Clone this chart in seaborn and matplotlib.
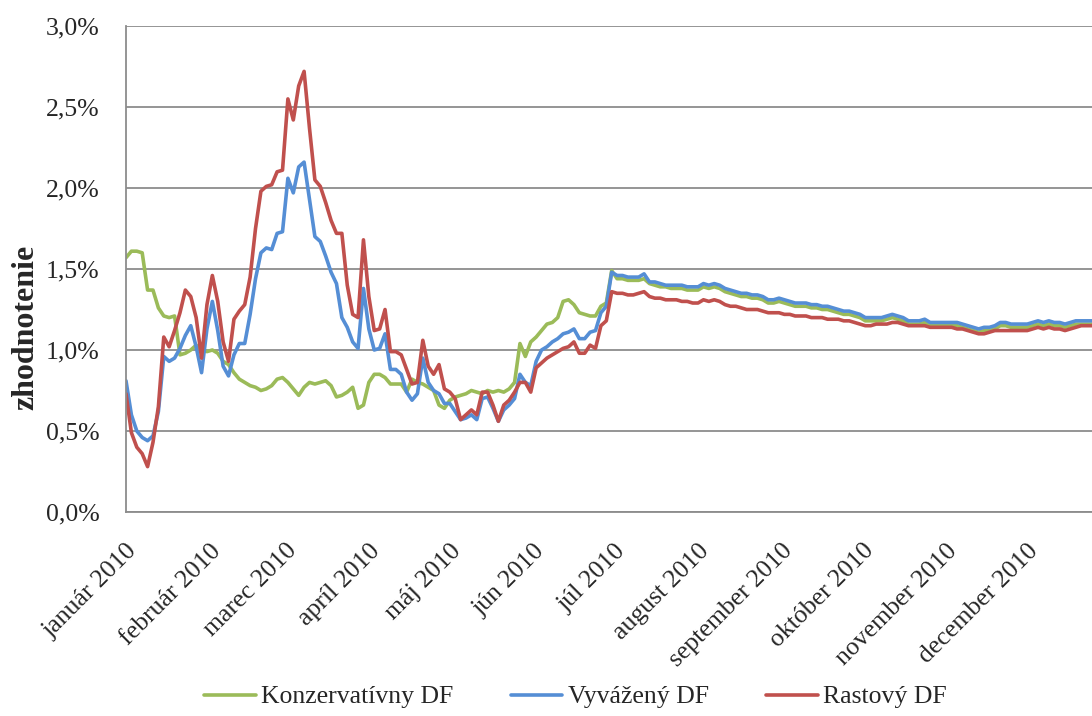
import pandas as pd
import matplotlib
matplotlib.use("Agg")
import matplotlib.pyplot as plt
import matplotlib.ticker as mticker
import seaborn as sns

# series names (legend order)
SERIES = ["Konzervatívny DF", "Vyvážený DF", "Rastový DF"]
COLORS = ["#9BBB59", "#558ED5", "#C0504D"]

# month tick labels
MONTHS = ["január 2010", "február 2010", "marec 2010", "apríl 2010", "máj 2010",
          "jún 2010", "júl 2010", "august 2010", "september 2010", "október 2010",
          "november 2010", "december 2010"]

# values in %, one reading every 2 calendar days starting 1.1.2010
konzervativny = [
    1.57, 1.61, 1.61, 1.60, 1.37, 1.37, 1.26, 1.21, 1.20, 1.21,
    0.97, 0.98, 1.00, 1.03, 1.00, 0.99, 1.00, 0.98, 0.93, 0.91,
    0.86, 0.82, 0.80, 0.78, 0.77, 0.75, 0.76, 0.78, 0.82, 0.83,
    0.80, 0.76, 0.72, 0.77, 0.80, 0.79, 0.80, 0.81, 0.78, 0.71,
    0.72, 0.74, 0.77, 0.64, 0.66, 0.80, 0.85, 0.85, 0.83, 0.79,
    0.79, 0.79, 0.74, 0.82, 0.80, 0.79, 0.77, 0.75, 0.66, 0.64,
    0.69, 0.71, 0.72, 0.73, 0.75, 0.74, 0.73, 0.75, 0.74, 0.75,
    0.74, 0.76, 0.80, 1.04, 0.96, 1.05, 1.08, 1.12, 1.16, 1.17,
    1.20, 1.30, 1.31, 1.28, 1.23, 1.22, 1.21, 1.21, 1.27, 1.29,
    1.49, 1.44, 1.44, 1.43, 1.43, 1.43, 1.44, 1.41, 1.40, 1.39,
    1.39, 1.38, 1.38, 1.38, 1.37, 1.37, 1.37, 1.39, 1.38, 1.39,
    1.38, 1.36, 1.35, 1.34, 1.33, 1.33, 1.32, 1.32, 1.31, 1.29,
    1.29, 1.30, 1.29, 1.28, 1.27, 1.27, 1.27, 1.26, 1.26, 1.25,
    1.25, 1.24, 1.23, 1.22, 1.22, 1.21, 1.20, 1.18, 1.18, 1.18,
    1.18, 1.19, 1.20, 1.19, 1.18, 1.16, 1.16, 1.16, 1.17, 1.15,
    1.15, 1.15, 1.15, 1.15, 1.15, 1.14, 1.13, 1.12, 1.11, 1.12,
    1.12, 1.13, 1.15, 1.15, 1.14, 1.14, 1.14, 1.14, 1.15, 1.16,
    1.15, 1.16, 1.15, 1.15, 1.14, 1.15, 1.16, 1.16, 1.16, 1.16,
    1.16,
]

vyvazeny = [
    0.81, 0.60, 0.50, 0.46, 0.44, 0.47, 0.62, 0.96, 0.93, 0.95,
    1.01, 1.09, 1.15, 1.02, 0.86, 1.13, 1.30, 1.12, 0.90, 0.84,
    0.97, 1.04, 1.04, 1.22, 1.44, 1.60, 1.63, 1.62, 1.72, 1.73,
    2.06, 1.97, 2.13, 2.16, 1.93, 1.70, 1.67, 1.58, 1.48, 1.41,
    1.20, 1.14, 1.05, 1.01, 1.38, 1.13, 1.00, 1.01, 1.10, 0.88,
    0.88, 0.85, 0.74, 0.69, 0.73, 0.95, 0.80, 0.75, 0.73, 0.67,
    0.67, 0.62, 0.57, 0.58, 0.60, 0.57, 0.70, 0.71, 0.64, 0.56,
    0.63, 0.66, 0.70, 0.85, 0.80, 0.78, 0.93, 1.00, 1.02, 1.05,
    1.07, 1.10, 1.11, 1.13, 1.07, 1.07, 1.11, 1.12, 1.23, 1.27,
    1.48, 1.46, 1.46, 1.45, 1.45, 1.45, 1.47, 1.42, 1.42, 1.41,
    1.40, 1.40, 1.40, 1.40, 1.39, 1.39, 1.39, 1.41, 1.40, 1.41,
    1.40, 1.38, 1.37, 1.36, 1.35, 1.35, 1.34, 1.34, 1.33, 1.31,
    1.31, 1.32, 1.31, 1.30, 1.29, 1.29, 1.29, 1.28, 1.28, 1.27,
    1.27, 1.26, 1.25, 1.24, 1.24, 1.23, 1.22, 1.20, 1.20, 1.20,
    1.20, 1.21, 1.22, 1.21, 1.20, 1.18, 1.18, 1.18, 1.19, 1.17,
    1.17, 1.17, 1.17, 1.17, 1.17, 1.16, 1.15, 1.14, 1.13, 1.14,
    1.14, 1.15, 1.17, 1.17, 1.16, 1.16, 1.16, 1.16, 1.17, 1.18,
    1.17, 1.18, 1.17, 1.17, 1.16, 1.17, 1.18, 1.18, 1.18, 1.18,
    1.18,
]

rastovy = [
    0.73, 0.49, 0.40, 0.36, 0.28, 0.43, 0.65, 1.08, 1.02, 1.12,
    1.23, 1.37, 1.33, 1.20, 0.95, 1.28, 1.46, 1.30, 1.05, 0.93,
    1.19, 1.24, 1.28, 1.45, 1.75, 1.98, 2.01, 2.02, 2.10, 2.11,
    2.55, 2.42, 2.63, 2.72, 2.37, 2.05, 2.01, 1.91, 1.80, 1.72,
    1.72, 1.40, 1.22, 1.20, 1.68, 1.33, 1.12, 1.13, 1.25, 0.99,
    0.99, 0.97, 0.88, 0.79, 0.80, 1.06, 0.90, 0.85, 0.91, 0.76,
    0.74, 0.70, 0.57, 0.60, 0.63, 0.60, 0.74, 0.74, 0.66, 0.56,
    0.66, 0.69, 0.74, 0.80, 0.80, 0.74, 0.89, 0.92, 0.95, 0.97,
    0.99, 1.01, 1.02, 1.05, 0.98, 0.98, 1.03, 1.01, 1.15, 1.18,
    1.36, 1.35, 1.35, 1.34, 1.34, 1.35, 1.36, 1.33, 1.32, 1.32,
    1.31, 1.31, 1.31, 1.30, 1.30, 1.29, 1.29, 1.31, 1.30, 1.31,
    1.30, 1.28, 1.27, 1.27, 1.26, 1.25, 1.25, 1.25, 1.24, 1.23,
    1.23, 1.23, 1.22, 1.22, 1.21, 1.21, 1.21, 1.20, 1.20, 1.20,
    1.19, 1.19, 1.19, 1.18, 1.18, 1.17, 1.16, 1.15, 1.15, 1.16,
    1.16, 1.16, 1.17, 1.17, 1.16, 1.15, 1.15, 1.15, 1.15, 1.14,
    1.14, 1.14, 1.14, 1.14, 1.13, 1.13, 1.12, 1.11, 1.10, 1.10,
    1.11, 1.12, 1.12, 1.12, 1.12, 1.12, 1.12, 1.12, 1.13, 1.14,
    1.13, 1.14, 1.13, 1.13, 1.12, 1.13, 1.14, 1.15, 1.15, 1.15,
    1.15,
]

FS = 18.5


def main():
    dates = pd.date_range("2010-01-01", periods=len(vyvazeny), freq="2D")

    # long form table for seaborn
    frames = []
    for name, vals in zip(SERIES, [konzervativny, vyvazeny, rastovy]):
        frames.append(pd.DataFrame({"datum": dates, "hodnota": vals, "fond": name}))
    df = pd.concat(frames, ignore_index=True)

    sns.set_style("white")
    plt.rcParams["font.family"] = ["Liberation Serif", "DejaVu Serif"]

    fig = plt.figure(figsize=(10.92, 7.16), dpi=100)
    ax = fig.add_axes([126 / 1092, 1 - 512 / 716, 1 - 126 / 1092, (512 - 26) / 716])

    sns.lineplot(data=df, x="datum", y="hodnota", hue="fond", hue_order=SERIES,
                 palette=COLORS, linewidth=2.6, ax=ax)

    # axes limits and grid
    ax.set_ylim(0, 3.0)
    ax.set_xlim(pd.Timestamp("2010-01-01"), pd.Timestamp("2010-12-25"))
    ax.set_yticks([0, 0.5, 1.0, 1.5, 2.0, 2.5, 3.0])
    ax.yaxis.set_major_formatter(
        mticker.FuncFormatter(lambda v, p: f"{v:.1f}%".replace(".", ",")))
    ax.grid(axis="y", color="#8c8c8c", linewidth=1.3)
    ax.set_axisbelow(True)

    month_starts = pd.date_range("2010-01-01", periods=12, freq="MS")
    ax.set_xticks(month_starts)
    ax.set_xticklabels(MONTHS, rotation=45, ha="right", va="top",
                       rotation_mode="anchor", fontsize=FS)
    ax.tick_params(axis="x", length=0, pad=20)
    ax.tick_params(axis="y", length=0, pad=19, labelsize=FS)

    for side in ["top", "right"]:
        ax.spines[side].set_visible(False)
    for side in ["left", "bottom"]:
        ax.spines[side].set_color("#8c8c8c")
        ax.spines[side].set_linewidth(1.3)

    ax.set_xlabel("")
    ax.set_ylabel("zhodnotenie", fontsize=23, fontweight="bold")
    ax.yaxis.set_label_coords(-0.089, 0.38)

    # legend below the chart
    ax.legend_.remove()
    handles, labels = ax.get_legend_handles_labels()
    fig.legend(handles, labels, loc="center", bbox_to_anchor=(0.527, 1 - 697 / 716),
               ncol=3, frameon=False, fontsize=FS, handlelength=2.0,
               handletextpad=0.2, columnspacing=2.25)

    fig.savefig("out.png", dpi=100)


if __name__ == "__main__":
    main()
